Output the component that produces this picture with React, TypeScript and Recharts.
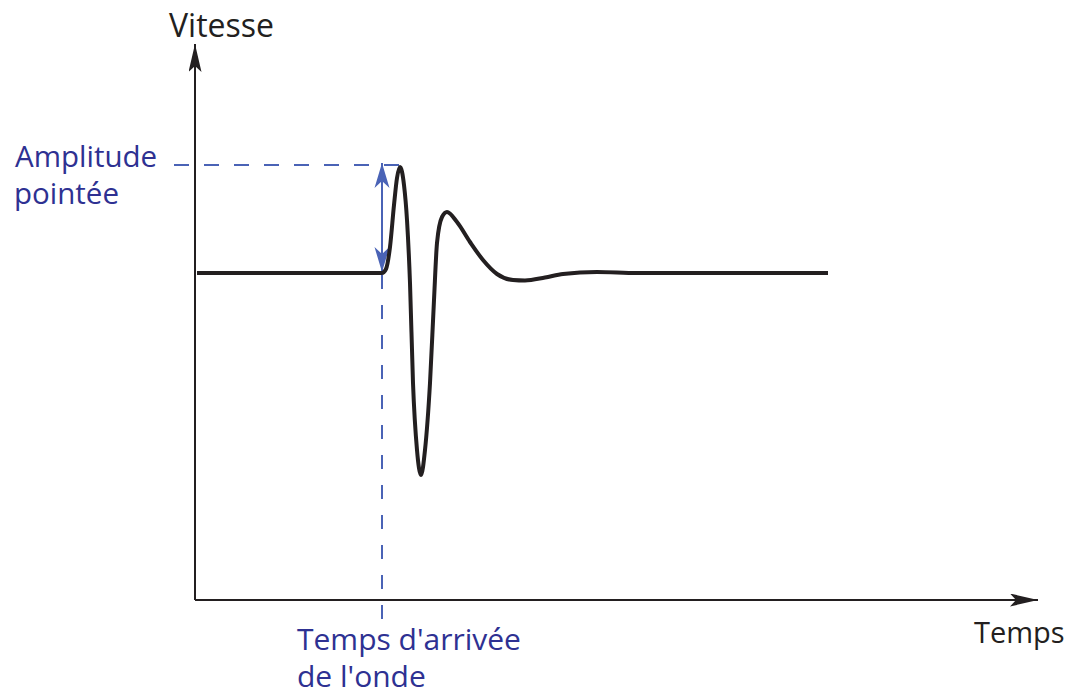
import React from "react";
import {
  ComposedChart,
  Line,
  XAxis,
  YAxis,
  ReferenceLine,
} from "recharts";

// --- Data (time in arbitrary units, velocity in arbitrary units) ---
const timeValues = [
  0.2, 18.7, 19.1, 19.5, 19.9, 20.2, 20.5, 20.9, 21.2, 21.5, 21.8, 22.2, 22.6,
  23.0, 23.5, 23.9, 24.2, 24.7, 25.2, 26.2, 27.5, 28.8, 30.2, 31.8, 33.0, 35.0,
  36.8, 40.2, 44.2, 63.3,
];
const velocityValues = [
  32.7, 32.7, 33.1, 35.3, 39.5, 42.2, 43.3, 41.5, 38.0, 31.7, 21.7, 15.0, 12.5,
  15.0, 21.7, 30.0, 35.7, 38.3, 38.8, 37.8, 35.8, 34.0, 32.6, 32.0, 31.95, 32.25,
  32.6, 32.8, 32.7, 32.7,
];
const arrivalTime = 18.7;
const timeMax = 84.3;
const velocityMax = 55.6;
const axisLabels = { y: "Vitesse", x: "Temps" };
const amplitudeLabel = ["Amplitude", "pointée"];
const arrivalLabel = ["Temps d'arrivée", "de l'onde"];

const wave = timeValues.map((t, i) => ({ t, v: velocityValues[i] }));
const baseline = velocityValues[0];
const peak = Math.max(...velocityValues);

const INK = "#231f20";
const GUIDE = "#4a63b6";
const LABEL = "#2e3192";
const FONT = "'Open Sans', 'Noto Sans', sans-serif";

export default function App() {
  return (
    <div style={{ position: "absolute", left: 0, top: 0, width: 1069, height: 699 }}>
      <svg width={0} height={0} style={{ position: "absolute" }}>
        <defs>
          <marker
            id="axisArrow"
            markerUnits="userSpaceOnUse"
            markerWidth={30}
            markerHeight={14}
            refX={28}
            refY={6.5}
            orient="auto-start-reverse"
            viewBox="0 0 30 14"
          >
            <path d="M0,0 L28,6.5 L0,13 L6,6.5 Z" fill={INK} />
          </marker>
          <marker
            id="guideArrow"
            markerUnits="userSpaceOnUse"
            markerWidth={26}
            markerHeight={16}
            refX={25}
            refY={8}
            orient="auto-start-reverse"
            viewBox="0 0 26 16"
          >
            <path d="M0,0.5 L25,8 L0,15.5 L7,8 Z" fill={GUIDE} />
          </marker>
        </defs>
      </svg>
      <ComposedChart
        width={1069}
        height={699}
        data={wave}
        margin={{ top: 44, right: 31, bottom: 99, left: 195 }}
      >
        <XAxis dataKey="t" type="number" domain={[0, timeMax]} hide />
        <YAxis type="number" domain={[0, velocityMax]} hide />
        {/* axes with arrowheads */}
        <ReferenceLine
          segment={[
            { x: 0, y: 0 },
            { x: timeMax, y: 0 },
          ]}
          ifOverflow="visible"
          stroke={INK}
          strokeWidth={2}
          markerEnd="url(#axisArrow)"
        />
        <ReferenceLine
          segment={[
            { x: 0, y: 0 },
            { x: 0, y: velocityMax },
          ]}
          ifOverflow="visible"
          stroke={INK}
          strokeWidth={2}
          markerEnd="url(#axisArrow)"
        />
        {/* guides */}
        <ReferenceLine
          segment={[
            { x: -2.1, y: peak + 0.2 },
            { x: 20.5, y: peak + 0.2 },
          ]}
          ifOverflow="visible"
          stroke={GUIDE}
          strokeWidth={2}
          strokeDasharray="15 15"
        />
        <ReferenceLine
          segment={[
            { x: arrivalTime, y: baseline - 0.2 },
            { x: arrivalTime, y: -2 },
          ]}
          ifOverflow="visible"
          stroke={GUIDE}
          strokeWidth={2}
          strokeDasharray="14 16"
        />
        <ReferenceLine
          segment={[
            { x: arrivalTime, y: peak + 0.4 },
            { x: arrivalTime, y: baseline + 0.1 },
          ]}
          ifOverflow="visible"
          stroke={GUIDE}
          strokeWidth={2}
          markerStart="url(#guideArrow)"
          markerEnd="url(#guideArrow)"
        />
        <Line
          dataKey="v"
          type="monotone"
          stroke={INK}
          strokeWidth={4}
          dot={false}
          activeDot={false}
          isAnimationActive={false}
        />
      </ComposedChart>
      <svg
        width={1069}
        height={699}
        style={{ position: "absolute", left: 0, top: 0, pointerEvents: "none" }}
        fontFamily={FONT}
      >
        <text x={169} y={37} fontSize={32} fill={INK}>{axisLabels.y}</text>
        <text x={974} y={643} fontSize={29} fill={INK}>{axisLabels.x}</text>
        <text x={15} y={167} fontSize={29.5} fill={LABEL}>{amplitudeLabel[0]}</text>
        <text x={14} y={204} fontSize={29.5} fill={LABEL}>{amplitudeLabel[1]}</text>
        <text x={297} y={650} fontSize={30} fill={LABEL}>{arrivalLabel[0]}</text>
        <text x={297} y={687} fontSize={30} fill={LABEL}>{arrivalLabel[1]}</text>
      </svg>
    </div>
  );
}
